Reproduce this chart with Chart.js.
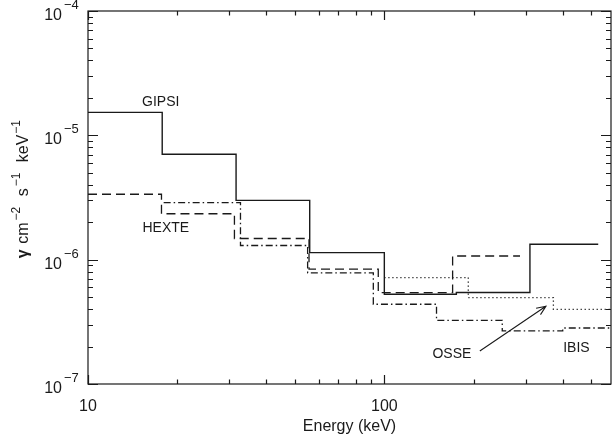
<!DOCTYPE html>
<html>
<head>
<meta charset="utf-8">
<title>Continuum sensitivity</title>
<script src="https://cdn.jsdelivr.net/npm/chart.js@4.4.1/dist/chart.umd.min.js"></script>
<style>
  html, body { margin: 0; padding: 0; background: #fff; }
  .wrap { width: 612px; height: 438px; position: relative; }
</style>
</head>
<body>
<div class="wrap"><canvas id="sensChart"></canvas></div>
<script>
// bin edges (keV) and flux level for each bin, per instrument
const gipsiEdges = [10, 17.8, 31.6, 56, 100, 175, 310, 527];
const gipsiFlux = [1.53e-5, 7.05e-6, 3.0e-6, 1.14e-6, 5.27e-7, 5.44e-7, 1.33e-6];
const hexteEdges = [10, 17.7, 31.2, 55.7, 95.4, 170, 287];
const hexteFlux = [3.36e-6, 2.34e-6, 1.48e-6, 8.38e-7, 5.44e-7, 1.07e-6];
const ibisEdges = [18, 32.7, 55.1, 91.8, 150, 250, 400, 600];
const ibisFlux = [2.88e-6, 1.3e-6, 7.83e-7, 4.38e-7, 3.25e-7, 2.67e-7, 2.82e-7];
const osseEdges = [100, 192, 372, 600];
const osseFlux = [7.18e-7, 4.96e-7, 3.99e-7];

// axes
const xMin = 10;
const xMax = 582;
const xMajorTicks = [10, 100];
const xTickLabels = ["10", "100"];
const yMajorTicks = [1e-7, 1e-6, 1e-5, 1e-4];
const yTickExponents = ["\u22127", "\u22126", "\u22125", "\u22124"];
const minorFactors = [2, 3, 4, 5, 6, 7, 8, 9];

// curve names and where they are written (keV, flux)
const curveNames = ["GIPSI", "HEXTE", "OSSE", "IBIS"];
const nameEnergy = [17.6, 18.3, 169, 445];
const nameFlux = [1.84e-5, 1.8e-6, 1.74e-7, 1.96e-7];

// arrow from the OSSE name to its curve (tail, head)
const arrowEnergy = [210, 351];
const arrowFlux = [1.84e-7, 4.22e-7];

const FONT = "'Liberation Sans', Arial, sans-serif";
const INK = "#1a1a1a";

// one point per bin start, plus the last edge to close the final bin
function stepPoints(edges, flux) {
  const pts = flux.map((f, i) => ({ x: edges[i], y: f }));
  pts.push({ x: edges[edges.length - 1], y: flux[flux.length - 1] });
  return pts;
}

function stepSet(label, edges, flux, dash, width) {
  return {
    label: label,
    data: stepPoints(edges, flux),
    stepped: "before",
    borderColor: INK,
    borderWidth: width,
    borderDash: dash,
    pointRadius: 0,
    fill: false,
  };
}

// frame with inward ticks on all four sides, labels, names and arrow
const frameAxes = {
  id: "frameAxes",
  afterDraw(chart) {
    const ctx = chart.ctx;
    const { left, right, top, bottom } = chart.chartArea;
    const xs = chart.scales.x;
    const ys = chart.scales.y;

    ctx.save();
    ctx.strokeStyle = INK;
    ctx.fillStyle = INK;
    ctx.lineWidth = 1.2;
    ctx.strokeRect(left, top, right - left, bottom - top);

    ctx.beginPath();
    const tickX = (v, len) => {
      if (v < xs.min || v > xs.max) return;
      const px = Math.round(xs.getPixelForValue(v)) + 0.5;
      ctx.moveTo(px, bottom); ctx.lineTo(px, bottom - len);
      ctx.moveTo(px, top); ctx.lineTo(px, top + len);
    };
    const tickY = (v, len) => {
      if (v < ys.min || v > ys.max) return;
      const py = Math.round(ys.getPixelForValue(v)) + 0.5;
      ctx.moveTo(left, py); ctx.lineTo(left + len, py);
      ctx.moveTo(right, py); ctx.lineTo(right - len, py);
    };
    xMajorTicks.forEach((v) => {
      tickX(v, 9);
      minorFactors.forEach((f) => tickX(v * f, 4.5));
    });
    yMajorTicks.forEach((v) => {
      tickY(v, 10);
      minorFactors.forEach((f) => tickY(v * f, 5));
    });
    ctx.stroke();

    // y tick labels as 10 with a raised exponent
    yMajorTicks.forEach((v, i) => {
      const py = ys.getPixelForValue(v);
      ctx.font = "16px " + FONT;
      ctx.textAlign = "right";
      ctx.textBaseline = "alphabetic";
      ctx.fillText("10", 62, py + 9);
      ctx.font = "13px " + FONT;
      ctx.textAlign = "left";
      ctx.fillText(yTickExponents[i], 64, py - 2);
    });

    // x tick labels
    ctx.font = "16px " + FONT;
    ctx.textAlign = "center";
    xMajorTicks.forEach((v, i) => {
      ctx.fillText(xTickLabels[i], xs.getPixelForValue(v), 411);
    });

    // x title
    ctx.fillText("Energy (keV)", (left + right) / 2, 431);

    // y title, rotated, with superscripts
    const parts = [
      ["\u03b3", false, 0], [" cm", false, 1], ["\u22122", true, 2],
      [" s", false, 6], ["\u22121", true, 2], [" keV", false, 6], ["\u22121", true, 1],
    ];
    const fontFor = (sup) => (sup ? "12px " : "16px ") + FONT;
    let total = 0;
    parts.forEach(([t, sup, gap]) => {
      ctx.font = fontFor(sup);
      total += ctx.measureText(t).width + gap;
    });
    ctx.save();
    ctx.translate(28, (top + bottom) / 2 - 8);
    ctx.rotate(-Math.PI / 2);
    ctx.textAlign = "left";
    let cx = -total / 2;
    parts.forEach(([t, sup, gap], i) => {
      cx += gap;
      ctx.font = (i === 0 ? "bold " : "") + fontFor(sup);
      ctx.fillText(t, cx, sup ? -8 : 0);
      cx += ctx.measureText(t).width;
    });
    ctx.restore();

    // curve names
    ctx.font = "14px " + FONT;
    ctx.textAlign = "center";
    ctx.textBaseline = "middle";
    curveNames.forEach((name, i) => {
      ctx.fillText(name, xs.getPixelForValue(nameEnergy[i]), ys.getPixelForValue(nameFlux[i]));
    });

    // arrow
    const x0 = xs.getPixelForValue(arrowEnergy[0]);
    const y0 = ys.getPixelForValue(arrowFlux[0]);
    const x1 = xs.getPixelForValue(arrowEnergy[1]);
    const y1 = ys.getPixelForValue(arrowFlux[1]);
    const ang = Math.atan2(y1 - y0, x1 - x0);
    const head = 10;
    ctx.lineWidth = 1.1;
    ctx.beginPath();
    ctx.moveTo(x0, y0);
    ctx.lineTo(x1, y1);
    ctx.moveTo(x1 - head * Math.cos(ang - 0.4), y1 - head * Math.sin(ang - 0.4));
    ctx.lineTo(x1, y1);
    ctx.lineTo(x1 - head * Math.cos(ang + 0.4), y1 - head * Math.sin(ang + 0.4));
    ctx.stroke();

    ctx.restore();
  },
};

const ctx = document.getElementById("sensChart").getContext("2d");

new Chart(ctx, {
  type: "line",
  data: {
    datasets: [
      stepSet("GIPSI", gipsiEdges, gipsiFlux, [], 1.4),
      stepSet("HEXTE", hexteEdges, hexteFlux, [9, 5], 1.3),
      stepSet("IBIS", ibisEdges, ibisFlux, [7, 3, 1.5, 3], 1.3),
      stepSet("OSSE", osseEdges, osseFlux, [1.2, 2.8], 1.3),
    ],
  },
  options: {
    responsive: true,
    maintainAspectRatio: false,
    animation: false,
    events: [],
    layout: {
      padding: { left: 88, right: 1, top: 11, bottom: 54 },
    },
    plugins: {
      legend: { display: false },
      tooltip: { enabled: false },
    },
    scales: {
      x: { type: "logarithmic", display: false, min: xMin, max: xMax },
      y: { type: "logarithmic", display: false, min: 1e-7, max: 1e-4 },
    },
  },
  plugins: [frameAxes],
});
</script>
</body>
</html>
